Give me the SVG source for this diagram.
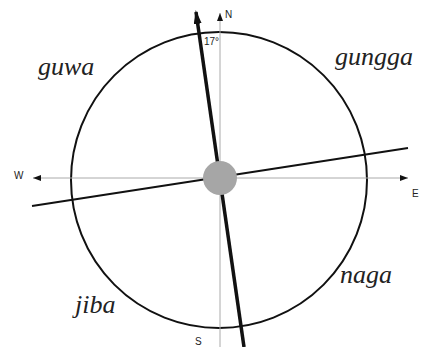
<svg xmlns="http://www.w3.org/2000/svg" width="421" height="347" viewBox="0 0 421 347">
<style>
.axis{stroke:#aaa;stroke-width:1;fill:none}
.lbl{font-family:"Liberation Serif",serif;font-style:italic;font-size:26px;fill:#222}
.dir{font-family:"Liberation Sans",sans-serif;font-size:10px;fill:#222}
</style>
<defs>
<marker id="ah" markerWidth="8" markerHeight="6" refX="8" refY="3" orient="auto" markerUnits="userSpaceOnUse">
<path d="M0,0 L8,3 L0,6 Z" fill="#111"/>
</marker>
<marker id="bh" markerWidth="14" markerHeight="8" refX="12" refY="4" orient="auto" markerUnits="userSpaceOnUse">
<path d="M0,0 L14,4 L0,8 Z" fill="#111"/>
</marker>
</defs>
<rect width="421" height="347" fill="#fff"/>
<g id="circle">
<circle cx="219" cy="180" r="148" fill="none" stroke="#111" stroke-width="2"/>
</g>
<g id="connectors">
<line class="axis" x1="220" y1="347" x2="220" y2="13" marker-end="url(#ah)"/>
<line class="axis" x1="220" y1="178" x2="33" y2="178" marker-end="url(#ah)"/>
<line class="axis" x1="220" y1="178" x2="408" y2="178" marker-end="url(#ah)"/>
<line x1="32" y1="206" x2="408" y2="148" stroke="#111" stroke-width="2"/>
<line x1="244" y1="347" x2="196" y2="12" stroke="#111" stroke-width="3.5" marker-end="url(#bh)"/>
</g>
<g id="center">
<circle cx="220" cy="178" r="17" fill="#a6a6a6"/>
</g>
<g id="labels">
<text class="lbl" x="38" y="75">guwa</text>
<text class="lbl" x="335" y="65">gungga</text>
<text class="lbl" x="340" y="283">naga</text>
<text class="lbl" x="75" y="313">jiba</text>
<text class="dir" x="225" y="18">N</text>
<text class="dir" x="195" y="345">S</text>
<text class="dir" x="14" y="179">W</text>
<text class="dir" x="412" y="197">E</text>
<text class="dir" x="204" y="45" font-size="8">17°</text>
</g>
</svg>
